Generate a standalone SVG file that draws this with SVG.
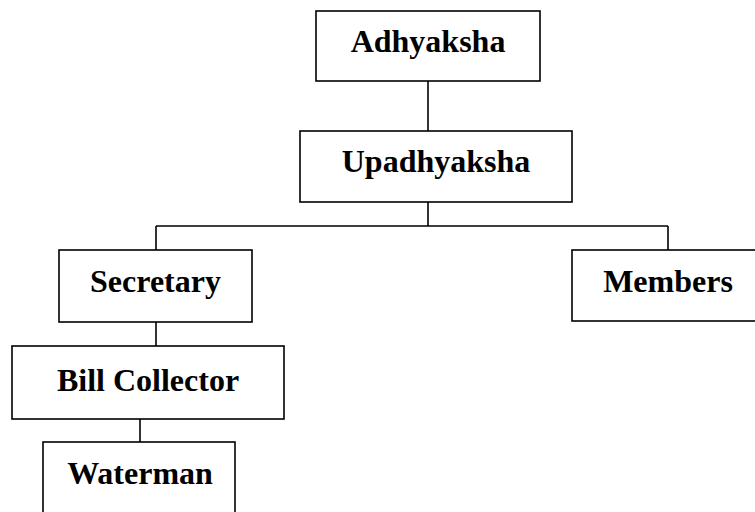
<svg xmlns="http://www.w3.org/2000/svg" width="755" height="512" viewBox="0 0 755 512">
<style>
.box{fill:#fff;stroke:#000;stroke-width:1.6}
.lbl{font-family:"Liberation Serif","Times New Roman",serif;font-weight:bold;font-size:32px;fill:#000;text-anchor:middle}
.con{fill:none;stroke:#000;stroke-width:1.6}
</style>
<rect width="755" height="512" fill="#fff"/>
<g id="connectors">
<path class="con" d="M428 81V131"/>
<path class="con" d="M428 202V226M156 226H668M156 226V250M668 226V250"/>
<path class="con" d="M156 322V346"/>
<path class="con" d="M140 419V442"/>
</g>
<g id="adhyaksha"><rect class="box" x="316" y="11" width="224" height="70"/><text class="lbl" x="428" y="52">Adhyaksha</text></g>
<g id="upadhyaksha"><rect class="box" x="300" y="131" width="272" height="71"/><text class="lbl" x="436" y="172">Upadhyaksha</text></g>
<g id="secretary"><rect class="box" x="59" y="250" width="193" height="72"/><text class="lbl" x="155.5" y="292">Secretary</text></g>
<g id="members"><rect class="box" x="572" y="250" width="192" height="71"/><text class="lbl" x="668" y="292">Members</text></g>
<g id="bill-collector"><rect class="box" x="12" y="346" width="272" height="73"/><text class="lbl" x="148" y="391">Bill Collector</text></g>
<g id="waterman"><rect class="box" x="43" y="442" width="192" height="72"/><text class="lbl" x="140" y="484">Waterman</text></g>
</svg>
